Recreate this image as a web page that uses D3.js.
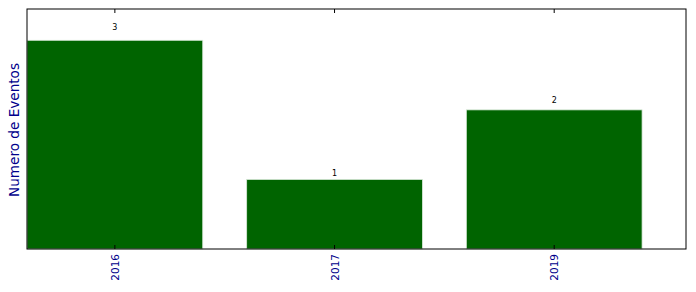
<!DOCTYPE html>
<html><head><meta charset="utf-8">
<script src="https://cdn.jsdelivr.net/npm/d3@7"></script>
<style>body{margin:0;background:#fff}svg{display:block}</style>
</head><body>
<svg id="c" width="696" height="292"></svg>
<script>
const categories = ["2016", "2017", "2019"];
const values = [3, 1, 2];
const yLabel = "Numero de Eventos";

const svg = d3.select("#c");
const L = 27, R = 686, T = 9, B = 249;
const x = d3.scaleLinear().domain([-0.4, 2.6]).range([L, R]);
const y = d3.scaleLinear().domain([0, 3.45]).range([B, T]);
const bw = 0.8;

svg.append("rect").attr("x", 0).attr("y", 0).attr("width", 696).attr("height", 292).attr("fill", "#fff");

svg.selectAll("rect.bar").data(values).enter().append("rect")
  .attr("class", "bar")
  .attr("x", (d, i) => x(i - bw / 2))
  .attr("width", (d, i) => x(i + bw / 2) - x(i - bw / 2))
  .attr("y", d => y(d))
  .attr("height", d => y(0) - y(d))
  .attr("fill", "#006400")
  .attr("stroke", "#d8e8d8").attr("stroke-width", 0.8);

svg.selectAll("text.val").data(values).enter().append("text")
  .attr("class", "val")
  .attr("x", (d, i) => x(i))
  .attr("y", d => y(d * 1.05))
  .attr("text-anchor", "middle")
  .attr("font-family", "DejaVu Sans")
  .attr("font-size", 8)
  .attr("fill", "#000")
  .text(d => d);

const tickPos = categories.map((c, i) => i);
const g = svg.append("g");
tickPos.forEach(i => {
  g.append("line").attr("x1", x(i)).attr("x2", x(i)).attr("y1", B).attr("y2", B - 4).attr("stroke", "#000");
  g.append("line").attr("x1", x(i)).attr("x2", x(i)).attr("y1", T).attr("y2", T + 4).attr("stroke", "#000");
});

svg.append("rect").attr("x", L).attr("y", T).attr("width", R - L).attr("height", B - T)
  .attr("fill", "none").attr("stroke", "#000").attr("stroke-width", 1);

svg.selectAll("text.xt").data(categories).enter().append("text")
  .attr("class", "xt")
  .attr("transform", (d, i) => `translate(${x(i) + 4},${B + 5}) rotate(-90)`)
  .attr("text-anchor", "end")
  .attr("font-family", "DejaVu Sans")
  .attr("font-size", 10.5)
  .attr("fill", "#00008b")
  .text(d => d);

svg.append("text")
  .attr("transform", `translate(19,${(T + B) / 2 + 1}) rotate(-90)`)
  .attr("text-anchor", "middle")
  .attr("font-family", "DejaVu Sans")
  .attr("font-size", 13.6)
  .attr("fill", "#00008b")
  .text(yLabel);
</script>
</body></html>
